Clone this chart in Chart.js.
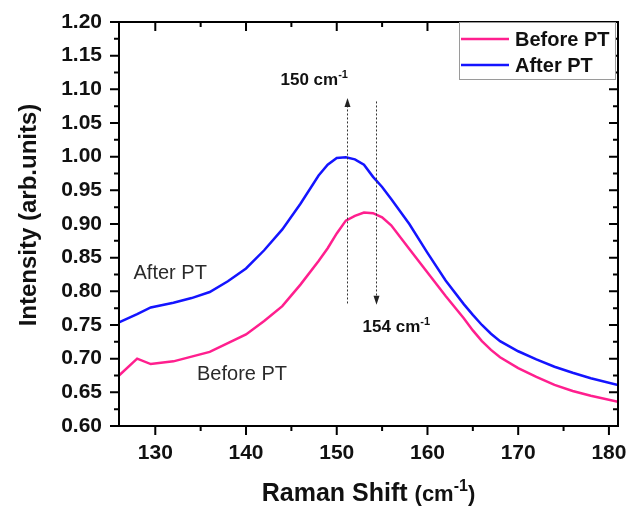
<!DOCTYPE html>
<html>
<head>
<meta charset="utf-8">
<script src="https://cdn.jsdelivr.net/npm/chart.js@4.4.1/dist/chart.umd.min.js"></script>
<style>
  html, body { margin: 0; padding: 0; background: #fff; }
  canvas { display: block; }
</style>
</head>
<body>
<canvas id="raman" width="632" height="510"></canvas>
<script>
// Raman spectra around the 150 cm-1 band, before and after PT
const ramanShift = [126, 128, 129.5, 132, 134, 136, 138, 140, 142, 144, 146, 148, 149, 150, 151, 152, 153, 154, 155, 156, 158, 160, 162, 164, 165, 166, 167, 168, 170, 172, 174, 176, 178, 181];
const beforePT   = [0.675, 0.700, 0.692, 0.696, 0.703, 0.710, 0.723, 0.736, 0.756, 0.778, 0.810, 0.845, 0.864, 0.886, 0.905, 0.912, 0.917, 0.916, 0.910, 0.898, 0.863, 0.828, 0.793, 0.760, 0.742, 0.726, 0.713, 0.702, 0.686, 0.673, 0.661, 0.652, 0.645, 0.636];
const afterPT    = [0.754, 0.766, 0.776, 0.783, 0.790, 0.799, 0.815, 0.834, 0.861, 0.892, 0.930, 0.972, 0.988, 0.998, 0.999, 0.996, 0.988, 0.970, 0.955, 0.937, 0.900, 0.857, 0.816, 0.781, 0.765, 0.750, 0.737, 0.726, 0.711, 0.699, 0.688, 0.679, 0.671, 0.661];

const xTickValues = [130, 140, 150, 160, 170, 180];
const yTickValues = [0.60, 0.65, 0.70, 0.75, 0.80, 0.85, 0.90, 0.95, 1.00, 1.05, 1.10, 1.15, 1.20];

// peak-shift markers: position, arrow span and direction
const peakMarkers = [
  { x: 151.1, from: 0.782, to: 1.087 },
  { x: 154.3, from: 1.082, to: 0.780 }
];

const PINK = '#ff1f8e';
const BLUE = '#1414ff';
const FONT = "'Liberation Sans', Arial, Helvetica, sans-serif";

function drawRuns(ctx, x, y, runs, align) {
  // runs: [{text, font, dy}] drawn on a shared baseline
  let total = 0;
  runs.forEach(r => { ctx.font = r.font; r.w = ctx.measureText(r.text).width; total += r.w; });
  let cx = align === 'center' ? x - total / 2 : x;
  ctx.textAlign = 'left';
  ctx.textBaseline = 'alphabetic';
  runs.forEach(r => {
    ctx.font = r.font;
    ctx.fillText(r.text, cx, y + (r.dy || 0));
    cx += r.w;
  });
}

const framePlugin = {
  id: 'frame',
  afterDatasetsDraw(chart) {
    const { ctx, chartArea: a, scales: { x, y } } = chart;
    ctx.save();

    // dotted peak-shift arrows
    ctx.strokeStyle = '#333';
    ctx.fillStyle = '#222';
    ctx.lineWidth = 1;
    peakMarkers.forEach(m => {
      const px = Math.round(x.getPixelForValue(m.x)) + 0.5;
      const y0 = y.getPixelForValue(m.from);
      const y1 = y.getPixelForValue(m.to);
      const dir = y1 < y0 ? -1 : 1;
      ctx.setLineDash([2, 2]);
      ctx.beginPath();
      ctx.moveTo(px, y0);
      ctx.lineTo(px, y1 - dir * 7);
      ctx.stroke();
      ctx.setLineDash([]);
      ctx.beginPath();
      ctx.moveTo(px, y1);
      ctx.lineTo(px - 3, y1 - dir * 9);
      ctx.lineTo(px + 3, y1 - dir * 9);
      ctx.closePath();
      ctx.fill();
    });

    // annotation texts
    ctx.fillStyle = '#111';
    drawRuns(ctx, x.getPixelForValue(143.8), y.getPixelForValue(1.107), [
      { text: '150 cm', font: `bold 17px ${FONT}` },
      { text: '-1', font: `bold 11px ${FONT}`, dy: -7 }
    ]);
    drawRuns(ctx, x.getPixelForValue(152.85), y.getPixelForValue(0.739), [
      { text: '154 cm', font: `bold 17px ${FONT}` },
      { text: '-1', font: `bold 11px ${FONT}`, dy: -7 }
    ]);
    ctx.fillStyle = '#2a2a2a';
    drawRuns(ctx, x.getPixelForValue(127.6), y.getPixelForValue(0.818), [
      { text: 'After PT', font: `20px ${FONT}` }
    ]);
    drawRuns(ctx, x.getPixelForValue(134.6), y.getPixelForValue(0.669), [
      { text: 'Before PT', font: `20px ${FONT}` }
    ]);

    // axis frame
    ctx.strokeStyle = '#000';
    ctx.lineWidth = 2;
    ctx.strokeRect(a.left, a.top, a.right - a.left, a.bottom - a.top);

    // x ticks: outward at the bottom, inward at the top
    for (let v = 130; v <= 180; v += 5) {
      const px = x.getPixelForValue(v);
      const len = v % 10 === 0 ? 9 : 5;
      ctx.beginPath();
      ctx.moveTo(px, a.bottom); ctx.lineTo(px, a.bottom + len);
      ctx.moveTo(px, a.top); ctx.lineTo(px, a.top + len);
      ctx.stroke();
    }
    // y ticks: outward on the left, inward on the right
    for (let i = 0; i <= 24; i++) {
      const py = y.getPixelForValue(0.6 + i * 0.025);
      const len = i % 2 === 0 ? 9 : 5;
      ctx.beginPath();
      ctx.moveTo(a.left, py); ctx.lineTo(a.left - len, py);
      ctx.moveTo(a.right, py); ctx.lineTo(a.right - len, py);
      ctx.stroke();
    }

    // legend box in the upper right corner
    const lx = a.right - 159, ly = a.top, lw = 156, lh = 57;
    ctx.fillStyle = '#fff';
    ctx.fillRect(lx, ly + 1, lw, lh - 1);
    ctx.strokeStyle = '#9a9a9a';
    ctx.lineWidth = 1;
    ctx.strokeRect(lx + 0.5, ly + 0.5, lw, lh);
    chart.data.datasets.forEach((ds, i) => {
      const rowY = ly + 17 + i * 26;
      ctx.strokeStyle = ds.borderColor;
      ctx.lineWidth = 2.5;
      ctx.beginPath();
      ctx.moveTo(lx + 2, rowY); ctx.lineTo(lx + 50, rowY);
      ctx.stroke();
      ctx.fillStyle = '#111';
      drawRuns(ctx, lx + 56, rowY + 7, [{ text: ds.label, font: `bold 20px ${FONT}` }]);
    });

    // axis titles
    ctx.fillStyle = '#111';
    drawRuns(ctx, (a.left + a.right) / 2, 501, [
      { text: 'Raman Shift ', font: `bold 25px ${FONT}` },
      { text: '(cm', font: `bold 22px ${FONT}` },
      { text: '-1', font: `bold 16px ${FONT}`, dy: -10 },
      { text: ')', font: `bold 22px ${FONT}` }
    ], 'center');

    ctx.save();
    ctx.translate(36, 215);
    ctx.rotate(-Math.PI / 2);
    drawRuns(ctx, 0, 0, [{ text: 'Intensity (arb.units)', font: `bold 24px ${FONT}` }], 'center');
    ctx.restore();

    ctx.restore();
  }
};

new Chart(document.getElementById('raman').getContext('2d'), {
  type: 'line',
  data: {
    datasets: [
      {
        label: 'Before PT',
        data: ramanShift.map((v, i) => ({ x: v, y: beforePT[i] })),
        borderColor: PINK, borderWidth: 2.5, pointRadius: 0, tension: 0, fill: false
      },
      {
        label: 'After PT',
        data: ramanShift.map((v, i) => ({ x: v, y: afterPT[i] })),
        borderColor: BLUE, borderWidth: 2.5, pointRadius: 0, tension: 0, fill: false
      }
    ]
  },
  options: {
    responsive: false,
    animation: false,
    devicePixelRatio: 1,
    layout: { padding: { top: 22, right: 14, left: 0, bottom: 0 } },
    plugins: { legend: { display: false }, tooltip: { enabled: false } },
    scales: {
      x: {
        type: 'linear', min: 126, max: 181,
        afterBuildTicks: s => { s.ticks = xTickValues.map(v => ({ value: v })); },
        afterFit: s => { s.height = 84; s.paddingLeft = 0; s.paddingRight = 0; },
        grid: { display: false, drawTicks: false },
        border: { display: false },
        ticks: {
          color: '#111', padding: 15, maxRotation: 0, autoSkip: false,
          font: { family: FONT, size: 21, weight: 'bold' },
          callback: v => String(v)
        }
      },
      y: {
        type: 'linear', min: 0.6, max: 1.2,
        afterBuildTicks: s => { s.ticks = yTickValues.map(v => ({ value: v })); },
        afterFit: s => { s.width = 119; s.paddingTop = 0; s.paddingBottom = 0; },
        grid: { display: false, drawTicks: false },
        border: { display: false },
        ticks: {
          color: '#111', padding: 17, autoSkip: false,
          font: { family: FONT, size: 21, weight: 'bold' },
          callback: v => Number(v).toFixed(2)
        }
      }
    }
  },
  plugins: [framePlugin]
});
</script>
</body>
</html>
